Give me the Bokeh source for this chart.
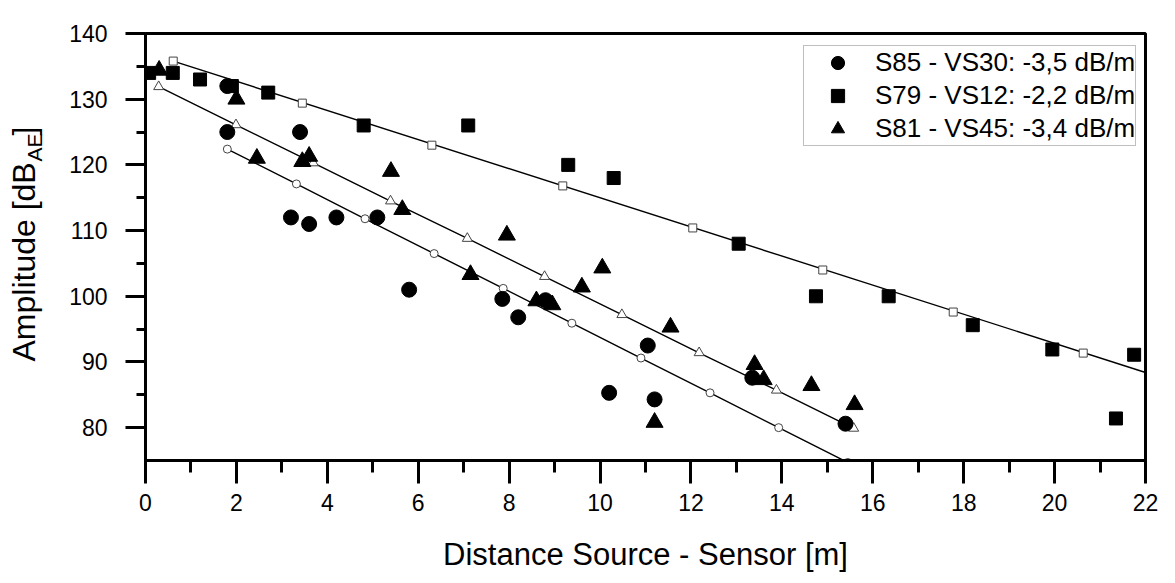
import math
from bokeh.plotting import figure
from bokeh.models import Range1d, FixedTicker, Label
from bokeh.embed import file_html
from bokeh.resources import INLINE

# ---- data ----
x_ticks = [0, 2, 4, 6, 8, 10, 12, 14, 16, 18, 20, 22]
x_minor = [1, 3, 5, 7, 9, 11, 13, 15, 17, 19, 21]
y_ticks = [80, 90, 100, 110, 120, 130, 140]
y_minor = [85, 95, 105, 115, 125, 135]

s85_label = "S85 - VS30: -3,5 dB/m"
s79_label = "S79 - VS12: -2,2 dB/m"
s81_label = "S81 - VS45: -3,4 dB/m"

s85_x = [1.8, 1.8, 3.2, 3.4, 3.6, 4.2, 5.1, 5.8, 7.85, 8.2, 8.8, 10.2, 11.05, 11.2, 13.35, 15.4]
s85_y = [132, 125, 112, 125, 111, 112, 112, 101, 99.6, 96.8, 99.4, 85.3, 92.5, 84.3, 87.6, 80.6]

s79_x = [0.08, 0.6, 1.2, 1.9, 2.7, 4.8, 7.1, 9.3, 10.3, 13.05, 14.75, 16.35, 18.2, 19.95, 21.35, 21.75]
s79_y = [134, 134, 133, 132, 131, 126, 126, 120, 118, 108, 100, 100, 95.6, 91.9, 81.4, 91.1]

s81_x = [0.3, 2.0, 2.45, 3.45, 3.6, 5.4, 5.65, 7.15, 7.95, 8.6, 8.95, 9.6, 10.05, 11.2, 11.55, 13.4, 13.6, 14.65, 15.6]
s81_y = [134.4, 130, 121, 120.5, 121.3, 119, 113.2, 103.3, 109.3, 99.3, 98.7, 101.4, 104.3, 80.8, 95.3, 89.6, 87.3, 86.4, 83.5]

# fitted lines (open markers)
s85_fit_x = [1.8, 3.32, 4.83, 6.35, 7.87, 9.38, 10.9, 12.42, 13.93, 15.45]
s85_fit_y = [122.4, 117.1, 111.8, 106.5, 101.2, 95.9, 90.6, 85.3, 80.0, 74.7]
s79_fit_x = [0.61, 3.45, 6.3, 9.18, 12.04, 14.9, 17.77, 20.63]
s79_fit_y = [135.8, 129.4, 123.0, 116.8, 110.4, 104.0, 97.6, 91.35]
s79_line_x = [0.61, 22.0]
s79_line_y = [135.8, 88.4]
s81_fit_x = [0.29, 1.99, 3.69, 5.39, 7.08, 8.78, 10.48, 12.18, 13.88, 15.58]
s81_fit_y = [131.9, 126.1, 120.3, 114.5, 108.8, 103.0, 97.2, 91.4, 85.7, 79.9]

FONT = "Liberation Sans"

p = figure(width=1175, height=583, output_backend="svg", toolbar_location=None,
           x_range=Range1d(0, 22), y_range=Range1d(75, 140),
           min_border_left=145, min_border_right=30, min_border_top=33, min_border_bottom=123)
p.background_fill_color = "white"
p.border_fill_color = "white"
p.grid.visible = False
p.outline_line_color = "black"
p.outline_line_width = 3

# axes
p.xaxis.ticker = FixedTicker(ticks=x_ticks, minor_ticks=x_minor)
p.yaxis.ticker = FixedTicker(ticks=y_ticks, minor_ticks=y_minor)
for ax in (p.xaxis, p.yaxis):
    ax.axis_line_width = 3
    ax.axis_line_color = "black"
    ax.major_tick_line_width = 3
    ax.minor_tick_line_width = 3
    ax.major_tick_line_color = "black"
    ax.minor_tick_line_color = "black"
    ax.major_tick_in = 0
    ax.minor_tick_in = 0
    ax.major_label_text_font = FONT
    ax.major_label_text_font_size = "23px"
    ax.major_label_text_color = "black"
p.xaxis.major_tick_out = 23
p.xaxis.minor_tick_out = 12
p.xaxis.major_label_standoff = 10
p.yaxis.major_tick_out = 20
p.yaxis.minor_tick_out = 9
p.yaxis.major_label_standoff = 18

p.xaxis.axis_label = "Distance Source - Sensor [m]"
p.xaxis.axis_label_text_font = FONT
p.xaxis.axis_label_text_font_size = "31px"
p.xaxis.axis_label_text_font_style = "normal"
p.xaxis.axis_label_text_color = "black"
p.xaxis.axis_label_standoff = 23

# y axis title with subscript: main text (gap kept for the subscript) and subscript,
# each in a left side panel
ylab_y0 = 99
p.add_layout(Label(x=-7, x_units="screen", y=ylab_y0, y_units="screen", angle=math.pi / 2,
                   text="Amplitude [dB\u00a0\u00a0\u00a0]", text_font=FONT, text_font_size="32px",
                   text_align="left", text_baseline="alphabetic", text_color="black"), "left")
p.add_layout(Label(x=27, x_units="screen", y=ylab_y0 + 200, y_units="screen", angle=math.pi / 2,
                   text="AE", text_font=FONT, text_font_size="21px",
                   text_align="left", text_baseline="alphabetic", text_color="black"), "left")

# fit lines and their open markers
p.line(s85_fit_x, s85_fit_y, line_color="black", line_width=1.4)
p.line(s79_line_x, s79_line_y, line_color="black", line_width=1.4)
p.line(s81_fit_x, s81_fit_y, line_color="black", line_width=1.4)
p.scatter(s85_fit_x, s85_fit_y, marker="circle", size=8, fill_color="white", line_color="#444444", line_width=1)
p.scatter(s79_fit_x, s79_fit_y, marker="square", size=8, fill_color="white", line_color="#444444", line_width=1)
p.scatter(s81_fit_x, s81_fit_y, marker="triangle", size=10, fill_color="white", line_color="#444444", line_width=1)

# measured data
p.scatter(s85_x, s85_y, marker="circle", size=15, fill_color="black", line_color="black", legend_label=s85_label)
p.scatter(s79_x, s79_y, marker="square", size=13, fill_color="black", line_color="black", legend_label=s79_label)
p.scatter(s81_x, s81_y, marker="triangle", size=17, fill_color="black", line_color="black", legend_label=s81_label)

lg = p.legend[0]
lg.location = (658, 314)
lg.padding = 0
lg.margin = 0
lg.spacing = 0
lg.glyph_height = 33
lg.glyph_width = 67
lg.label_height = 33
lg.label_standoff = 4
lg.label_text_font = FONT
lg.label_text_font_size = "26px"
lg.label_text_color = "black"
lg.border_line_color = "#808080"
lg.border_line_width = 1
lg.background_fill_color = "white"
lg.background_fill_alpha = 1.0

open("out.html", "w").write(file_html(p, INLINE))
